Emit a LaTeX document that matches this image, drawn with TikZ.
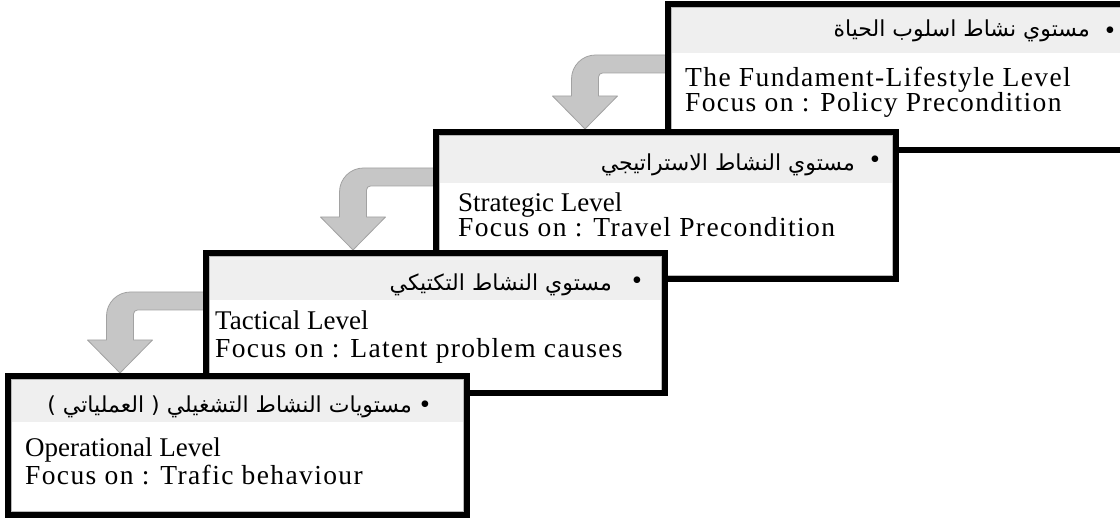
\documentclass[tikz,border=0pt]{standalone}
\usepackage{fontspec}
\setmainfont{Liberation Serif}
\newfontfamily\arabicfont[Script=Arabic]{DejaVu Sans}
\newfontfamily\spacedserif[LetterSpace=5]{Liberation Serif}
\TeXXeTstate=1
\usetikzlibrary{calc,backgrounds}

\definecolor{headgray}{HTML}{EFEFEF}
\definecolor{arrowfill}{HTML}{C6C6C6}
\definecolor{arrowline}{HTML}{A2A2A2}

\tikzset{
  levelbox/.style={rectangle, fill=white, outer sep=0pt, inner sep=0pt, anchor=north west},
  boxborder/.style={draw=black, line width=6pt, line join=miter},
  innerline/.style={draw=gray!55, line width=0.7pt},
  headband/.style={fill=headgray},
  arrowshape/.style={fill=arrowfill, draw=arrowline, line width=0.8pt, line join=round},
  engtext/.style={anchor=base west, inner sep=0pt, text depth=0pt, font=\fontsize{27}{27}\selectfont},
  spacedtext/.style={anchor=base west, inner sep=0pt, text height=17pt, font=\spacedserif\fontsize{27.5}{27.5}\selectfont},
  firstspaced/.style={spacedtext, text depth=0pt},
  artext/.style={anchor=east, inner sep=0pt, font=\arabicfont\fontsize{22}{22}\selectfont},
  bulletmark/.style={inner sep=0pt, font=\fontsize{28}{28}\selectfont},
}

% one level: name, top-left corner, width, height, height of the grey title band
\newcommand\levelbox[6]{%
  \node[levelbox, minimum width=#4pt, minimum height=#5pt] (#1) at (#2,#3) {};
  \fill[headband] (#1.north west) rectangle ($(#1.north east)+(0,-#6)$);
  \draw[innerline] ($(#1.north west)+(3.4,-3.4)$) rectangle ($(#1.south east)+(-3.4,3.4)$);
  \draw[boxborder] (#1.north west) rectangle (#1.south east);
}

% bent grey block arrow leaving the left side of one level and pointing down onto the next
% #1 source level, #2 target level, #3 stem centre right of the target's corner, #4 band top above the tip
\newcommand\bentarrow[4]{%
  \coordinate (tip) at ($(#2.north west)+(#3,3)$);
  \coordinate (bandtop) at ($(tip)+(0,#4)$);
  \coordinate (bandin) at ($(tip)+(0,#4-18)$);
  \filldraw[arrowshape] (#1.west |- bandtop) -- ($(bandtop)+(10.5,0)$)
    arc[start angle=90, end angle=180, radius=24pt]
    -- ($(tip)+(-13.5,33)$) -- ($(tip)+(-32.5,33)$) -- (tip)
    -- ($(tip)+(32.5,33)$) -- ($(tip)+(13.5,33)$)
    -- ($(bandin)+(13.5,-4)$)
    arc[start angle=180, end angle=90, radius=4pt]
    -- (#1.west |- bandin) -- cycle;
}

\begin{document}
\begin{tikzpicture}[x=1pt, y=1pt]
  \useasboundingbox (0,0) rectangle (1120,519);
  \clip (0,0) rectangle (1120,519);

  % the four levels, each one overlapping the one above it
  \levelbox{lifestyle}{668}{515}{460}{146.5}{49}
  \levelbox{strategic}{435.5}{387}{460}{147}{51}
  \levelbox{tactical}{205.5}{266}{459}{140.5}{47}
  \levelbox{operational}{8}{143}{459}{139}{46}

  % titles
  \node[bulletmark] (bl1) at (1110,486) {•};
  \node[artext] (ar1) at (1090,488) {\beginR مستوي نشاط اسلوب الحياة\endR};
  \node[bulletmark] (bl2) at (875,357) {•};
  \node[artext] (ar2) at (855,354) {\beginR مستوي النشاط الاستراتيجي\endR};
  \node[bulletmark] (bl3) at (637,236) {•};
  \node[artext] (ar3) at (612,234) {\beginR مستوي النشاط التكتيكي\endR};
  \node[bulletmark] (bl4) at (425,112) {•};
  \node[artext] (ar4) at (412,112) {\beginR مستويات النشاط التشغيلي ( العملياتي )\endR};

  % descriptions
  \node[firstspaced] (en1a) at (685,432.5) {The Fundament-Lifestyle Level};
  \node[spacedtext]  (en1b) at (685,407) {Focus on : Policy Precondition};
  \node[engtext]     (en2a) at (458,307) {Strategic Level};
  \node[spacedtext]  (en2b) at (458,282) {Focus on : Travel Precondition};
  \node[engtext]     (en3a) at (215,189) {Tactical Level};
  \node[spacedtext]  (en3b) at (215,161) {Focus on : Latent problem causes};
  \node[engtext]     (en4a) at (25,62) {Operational Level};
  \node[spacedtext]  (en4b) at (25,34) {Focus on : Trafic behaviour};

  % arrows between levels, behind the boxes
  \begin{scope}[on background layer]
    \fill[white] (0,0) rectangle (1120,519);
    \bentarrow{lifestyle}{strategic}{149.5}{74}
    \bentarrow{strategic}{tactical}{147.5}{82}
    \bentarrow{tactical}{operational}{112}{81}
  \end{scope}
\end{tikzpicture}
\end{document}
